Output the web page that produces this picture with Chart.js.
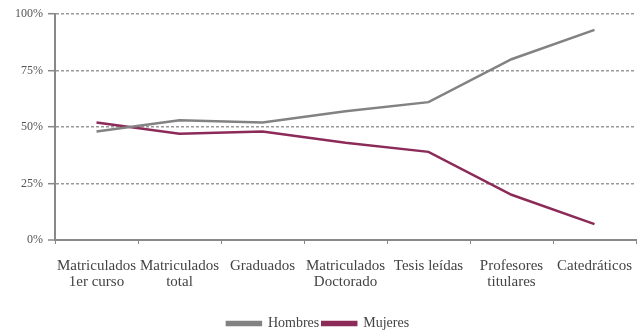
<!DOCTYPE html>
<html>
<head>
<meta charset="utf-8">
<script src="https://cdn.jsdelivr.net/npm/chart.js@4"></script>
<style>
html,body{margin:0;padding:0;background:#fff;}
#wrap{width:639px;height:334px;position:relative;}
</style>
</head>
<body>
<div id="wrap"><canvas id="c" width="639" height="334"></canvas></div>
<script>
const categories = [
  ["Matriculados","1er curso"],
  ["Matriculados","total"],
  "Graduados",
  ["Matriculados","Doctorado"],
  "Tesis leídas",
  ["Profesores","titulares"],
  "Catedráticos"
];
const hombres = [48, 53, 52, 57, 61, 80, 93];
const mujeres = [52, 47, 48, 43, 39, 20, 7];
const yTicks = [0, 25, 50, 75, 100];

const FONT = "'Liberation Serif', 'DejaVu Serif', serif";
Chart.defaults.font.family = FONT;
Chart.defaults.color = '#444';

new Chart(document.getElementById('c'), {
  type: 'line',
  data: {
    labels: categories,
    datasets: [
      {label: 'Hombres', data: hombres, borderColor: '#828282', backgroundColor: '#828282',
       borderWidth: 2.5, pointRadius: 0, tension: 0},
      {label: 'Mujeres', data: mujeres, borderColor: '#8c2a58', backgroundColor: '#8c2a58',
       borderWidth: 2.5, pointRadius: 0, tension: 0}
    ]
  },
  options: {
    responsive: false,
    animation: false,
    layout: {padding: {top: 14, right: 3, left: 0, bottom: -6.5}},
    plugins: {
      legend: {
        position: 'bottom',
        labels: {boxWidth: 34, boxHeight: 3, padding: 3, font: {size: 14, family: FONT, lineHeight: 1}, color: '#444'}
      },
      tooltip: {enabled: false}
    },
    scales: {
      x: {
        offset: true,
        grid: {display: true, drawOnChartArea: false, offset: true, tickLength: 4, color: '#888', tickColor: '#888'},
        border: {color: '#888', width: 2},
        ticks: {font: {size: 15, family: FONT, lineHeight: 1.05}, color: '#444', maxRotation: 0, autoSkip: false, padding: 14},
        afterFit: (s) => { s.height = 73.5; s.paddingLeft = 0; s.paddingRight = 0; }
      },
      y: {
        min: 0, max: 100,
        afterBuildTicks: (s) => { s.ticks = yTicks.map(v => ({value: v})); },
        grid: {color: '#999', tickLength: 7, tickColor: '#888', tickBorderDash: [], tickWidth: 1.5,
               lineWidth: (ctx) => ctx.tick && ctx.tick.value === 0 ? 0 : 1.4},
        border: {color: '#888', width: 2, dash: [3, 2]},
        ticks: {font: {size: 12, family: FONT}, color: '#555', padding: 5, callback: (v) => v + '%'},
        afterFit: (s) => { s.width = 55; }
      }
    }
  }
});
</script>
</body>
</html>
